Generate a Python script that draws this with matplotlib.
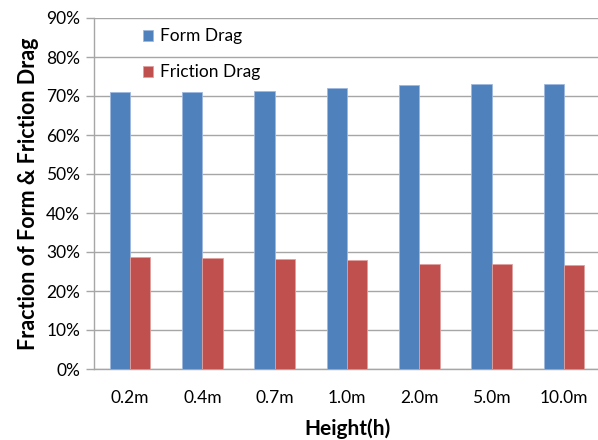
import numpy as np
import matplotlib.pyplot as plt
import matplotlib.ticker as mticker

# drag split by height
heights = ['0.2m', '0.4m', '0.7m', '1.0m', '2.0m', '5.0m', '10.0m']
form_drag = [71.1, 71.1, 71.4, 72.0, 72.7, 73.1, 73.1]
friction_drag = [28.8, 28.5, 28.1, 27.9, 26.9, 26.9, 26.6]

plt.rcParams['font.family'] = ['Lato', 'DejaVu Sans']

fig = plt.figure(figsize=(5.98, 4.40), dpi=100)
ax = fig.add_axes([94 / 598, 1 - 369 / 440, 506 / 598, 351 / 440])

x = np.arange(len(heights))
w = 0.28
ax.bar(x - w / 2, form_drag, width=w, color='#4F81BD', edgecolor='#9DB9DE',
       linewidth=0.6, label='Form Drag', zorder=3)
ax.bar(x + w / 2, friction_drag, width=w, color='#C0504D', edgecolor='#E0A09E',
       linewidth=0.6, label='Friction Drag', zorder=3)

ax.set_xlim(-0.5, 6.5)
ax.set_ylim(0, 90)
ax.yaxis.set_major_locator(mticker.MultipleLocator(10))
ax.yaxis.set_major_formatter(mticker.FuncFormatter(lambda v, p: f'{v:.0f}%'))
ax.set_xticks(x)
ax.set_xticklabels(heights)

ax.grid(axis='y', color='#A6A6A6', linewidth=1.0, zorder=0)
ax.axhline(90, color='#595959', linewidth=1.4, zorder=1)
for s in ['top', 'right']:
    ax.spines[s].set_visible(False)
ax.spines['left'].set_color('#A6A6A6')
ax.spines['bottom'].set_color('#A6A6A6')
ax.spines['left'].set_linewidth(1.0)
ax.spines['bottom'].set_linewidth(1.0)
ax.tick_params(axis='y', length=6, width=1, color='#A6A6A6', labelsize=12.5, pad=4)
ax.tick_params(axis='x', length=0, labelsize=12.5, pad=15)

ax.set_xlabel('Height(h)', fontsize=15, fontweight='bold', labelpad=9)
ax.set_ylabel('Fraction of Form & Friction Drag', fontsize=15.5, fontweight='bold', labelpad=5)

ax.legend(loc='upper left', bbox_to_anchor=(0.065, 1.015), frameon=False, fontsize=12.5,
          handlelength=0.6, handleheight=0.6, handletextpad=0.4, labelspacing=1.15)

fig.savefig('out.png', dpi=100)
